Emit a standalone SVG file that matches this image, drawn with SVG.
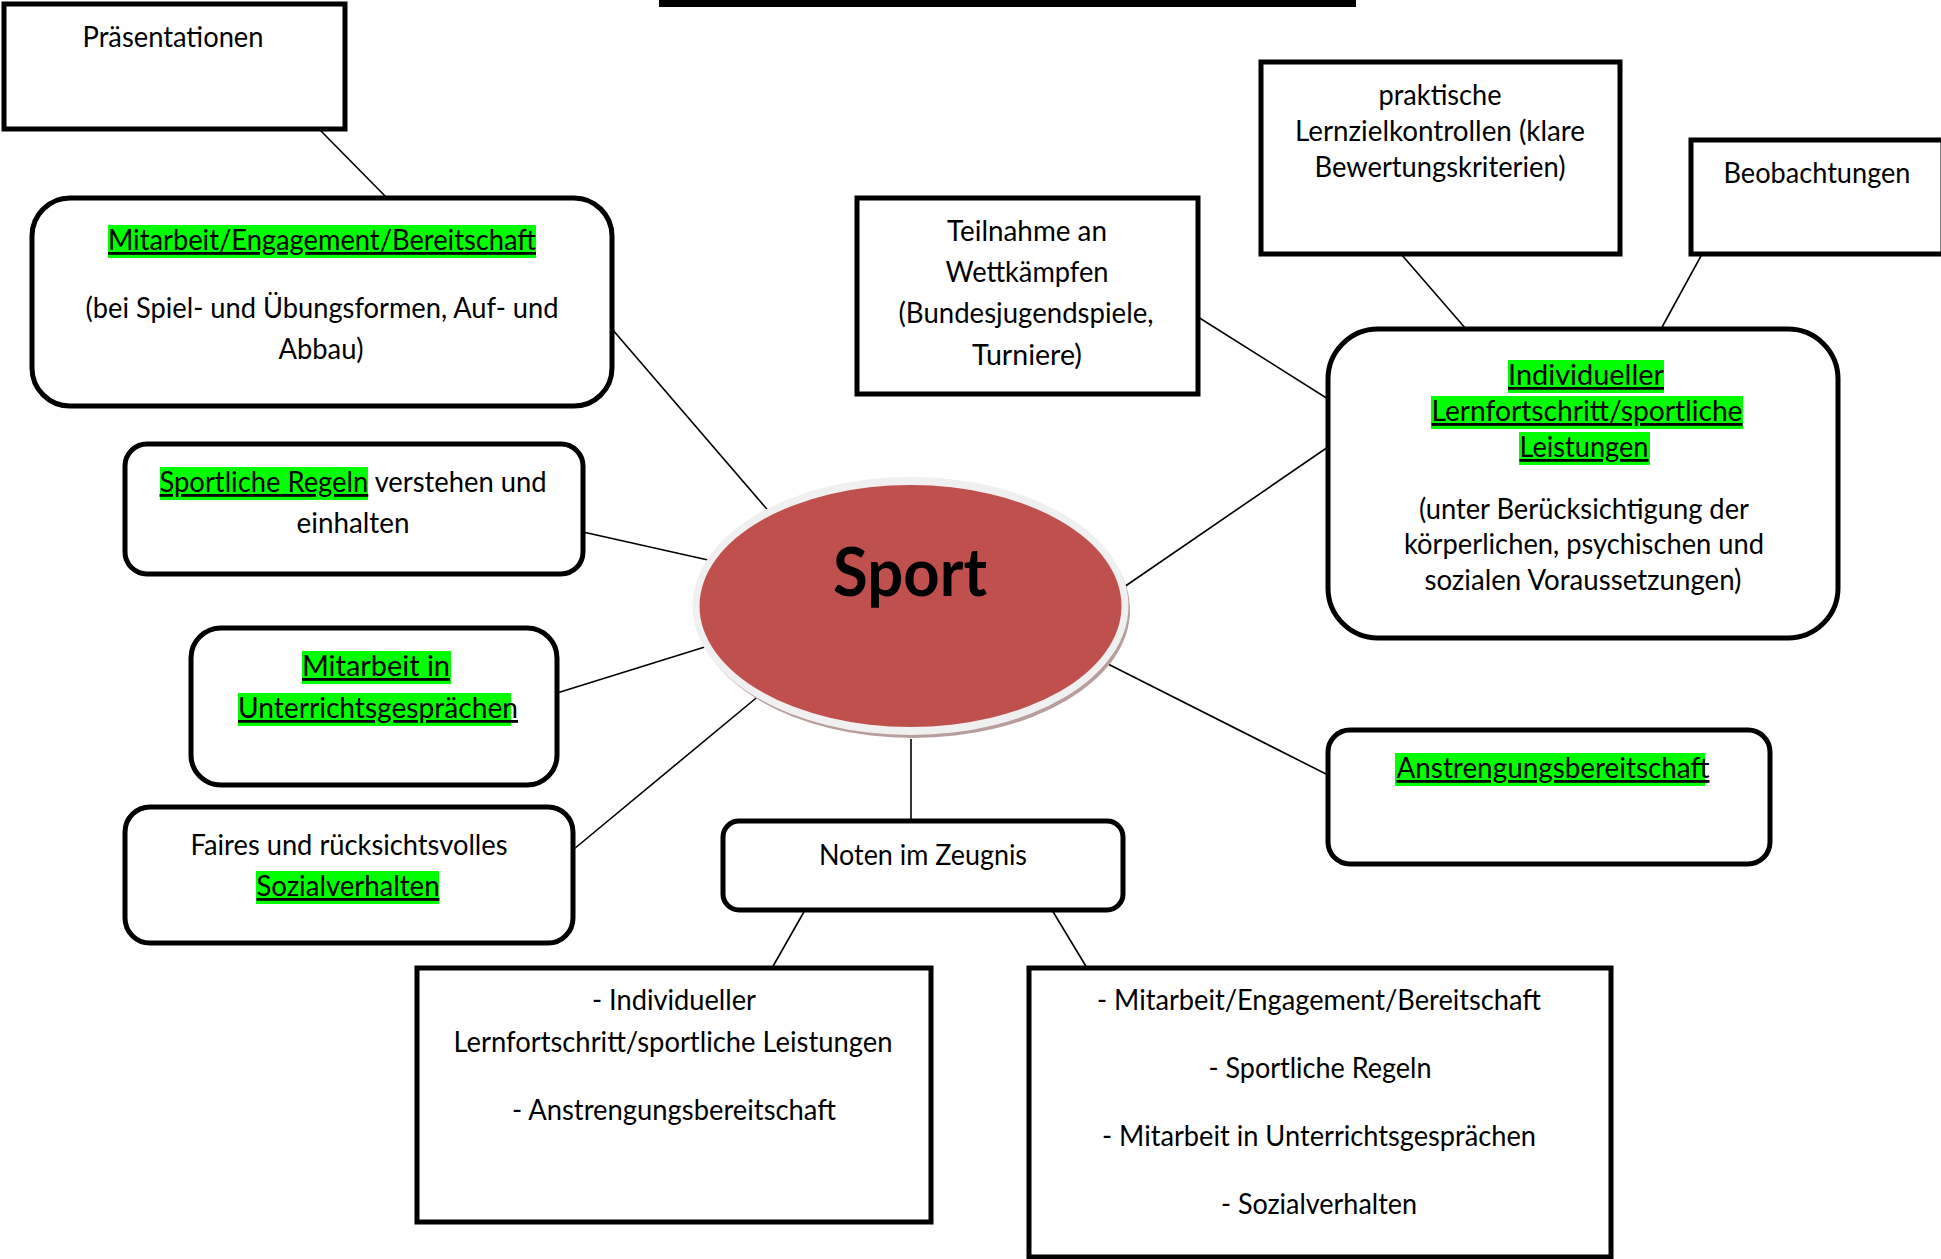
<svg xmlns="http://www.w3.org/2000/svg" width="1941" height="1259" viewBox="0 0 1941 1259">
<style>
  .t { font-family: Lato, "Open Sans", "Liberation Sans", sans-serif; font-size: 28px; fill: #000; text-anchor: middle; }
  .u { text-decoration: underline; }
  .box { fill: #fff; stroke: #000; stroke-width: 5; }
  .hl { fill: #00FF00; }
  .con { stroke: #000; stroke-width: 1.6; fill: none; }
</style>
<rect width="1941" height="1259" fill="#fff"/>
<rect id="title-rule" x="659" y="0" width="697" height="7" fill="#000"/>

<g id="connectors">
  <line class="con" x1="319" y1="129" x2="387" y2="198"/>
  <line class="con" x1="612" y1="329" x2="772" y2="515"/>
  <line class="con" x1="583" y1="532" x2="708" y2="560"/>
  <line class="con" x1="557" y1="693" x2="708" y2="646"/>
  <line class="con" x1="574" y1="849" x2="761" y2="694"/>
  <line class="con" x1="911" y1="739" x2="911" y2="821"/>
  <line class="con" x1="805" y1="910" x2="772" y2="968"/>
  <line class="con" x1="1052" y1="910" x2="1087" y2="968"/>
  <line class="con" x1="1198" y1="317" x2="1328" y2="399"/>
  <line class="con" x1="1401" y1="254" x2="1466" y2="329"/>
  <line class="con" x1="1702" y1="254" x2="1661" y2="329"/>
  <line class="con" x1="1124" y1="587" x2="1328" y2="447"/>
  <line class="con" x1="1104" y1="662" x2="1328" y2="775"/>
</g>

<g id="sport">
  <ellipse cx="913" cy="610" rx="217" ry="128" fill="#B99C9C"/>
  <ellipse cx="910.5" cy="606" rx="218" ry="129" fill="#F0F0F0"/>
  <ellipse cx="910.5" cy="606" rx="211" ry="121" fill="#C0504D"/>
  <text x="910" y="596" style="font-family: Lato, 'Open Sans', 'Liberation Sans', sans-serif; font-size:66px; font-weight:bold; text-anchor:middle" textLength="154" lengthAdjust="spacingAndGlyphs">Sport</text>
</g>

<g id="praesentationen">
  <rect class="box" x="4" y="4" width="341" height="125"/>
  <text class="t" x="173" y="47" textLength="181" lengthAdjust="spacingAndGlyphs">Präsentationen</text>
</g>

<g id="mitarbeit-engagement">
  <rect class="box" x="32" y="198" width="580" height="208" rx="38"/>
  <rect class="hl" x="108" y="225" width="428" height="33"/>
  <text class="t u" x="322" y="250" textLength="428" lengthAdjust="spacingAndGlyphs">Mitarbeit/Engagement/Bereitschaft</text>
  <text class="t" x="322" y="318" textLength="473" lengthAdjust="spacingAndGlyphs">(bei Spiel- und Übungsformen, Auf- und</text>
  <text class="t" x="321" y="359" textLength="85" lengthAdjust="spacingAndGlyphs">Abbau)</text>
</g>

<g id="sportliche-regeln">
  <rect class="box" x="125" y="444" width="458" height="130" rx="22"/>
  <rect class="hl" x="160" y="467" width="208" height="33"/>
  <text class="t" x="353" y="492" textLength="387" lengthAdjust="spacingAndGlyphs"><tspan class="u">Sportliche Regeln</tspan> verstehen und</text>
  <text class="t" x="353" y="533" textLength="113" lengthAdjust="spacingAndGlyphs">einhalten</text>
</g>

<g id="mitarbeit-unterricht">
  <rect class="box" x="191" y="628" width="366" height="157" rx="30"/>
  <rect class="hl" x="302" y="651" width="149" height="33"/>
  <rect class="hl" x="238" y="693" width="273" height="33"/>
  <text class="t u" x="376" y="676" textLength="148" lengthAdjust="spacingAndGlyphs">Mitarbeit in </text>
  <text class="t u" x="378" y="718" textLength="280" lengthAdjust="spacingAndGlyphs">Unterrichtsgesprächen </text>
</g>

<g id="faires">
  <rect class="box" x="125" y="807" width="448" height="136" rx="25"/>
  <rect class="hl" x="256" y="871" width="183" height="33"/>
  <text class="t" x="349" y="855" textLength="317" lengthAdjust="spacingAndGlyphs">Faires und rücksichtsvolles</text>
  <text class="t u" x="348" y="896" textLength="183" lengthAdjust="spacingAndGlyphs">Sozialverhalten</text>
</g>

<g id="noten">
  <rect class="box" x="723" y="821" width="400" height="89" rx="16"/>
  <text class="t" x="923" y="865" textLength="208" lengthAdjust="spacingAndGlyphs">Noten im Zeugnis</text>
</g>

<g id="noten-links">
  <rect class="box" x="417" y="968" width="514" height="254"/>
  <text class="t" x="674" y="1010" textLength="164" lengthAdjust="spacingAndGlyphs">- Individueller</text>
  <text class="t" x="673" y="1052" textLength="439" lengthAdjust="spacingAndGlyphs">Lernfortschritt/sportliche Leistungen</text>
  <text class="t" x="674" y="1120" textLength="324" lengthAdjust="spacingAndGlyphs">- Anstrengungsbereitschaft</text>
</g>

<g id="noten-rechts">
  <rect class="box" x="1029" y="968" width="582" height="289"/>
  <text class="t" x="1319" y="1010" textLength="444" lengthAdjust="spacingAndGlyphs">- Mitarbeit/Engagement/Bereitschaft</text>
  <text class="t" x="1320" y="1078" textLength="223" lengthAdjust="spacingAndGlyphs">- Sportliche Regeln</text>
  <text class="t" x="1319" y="1146" textLength="434" lengthAdjust="spacingAndGlyphs">- Mitarbeit in Unterrichtsgesprächen</text>
  <text class="t" x="1319" y="1214" textLength="196" lengthAdjust="spacingAndGlyphs">- Sozialverhalten</text>
</g>

<g id="teilnahme">
  <rect class="box" x="857" y="198" width="341" height="196"/>
  <text class="t" x="1027" y="241" textLength="160" lengthAdjust="spacingAndGlyphs">Teilnahme an</text>
  <text class="t" x="1027" y="282" textLength="163" lengthAdjust="spacingAndGlyphs">Wettkämpfen</text>
  <text class="t" x="1026" y="323" textLength="255" lengthAdjust="spacingAndGlyphs">(Bundesjugendspiele,</text>
  <text class="t" x="1027" y="365" textLength="110" lengthAdjust="spacingAndGlyphs">Turniere)</text>
</g>

<g id="praktische">
  <rect class="box" x="1261" y="62" width="359" height="192"/>
  <text class="t" x="1440" y="105" textLength="123" lengthAdjust="spacingAndGlyphs">praktische</text>
  <text class="t" x="1440" y="141" textLength="290" lengthAdjust="spacingAndGlyphs">Lernzielkontrollen (klare</text>
  <text class="t" x="1440" y="177" textLength="251" lengthAdjust="spacingAndGlyphs">Bewertungskriterien)</text>
</g>

<g id="beobachtungen">
  <rect class="box" x="1691" y="140" width="252" height="114"/>
  <text class="t" x="1817" y="183" textLength="187" lengthAdjust="spacingAndGlyphs">Beobachtungen</text>
</g>

<g id="individueller">
  <rect class="box" x="1328" y="329" width="510" height="309" rx="50"/>
  <rect class="hl" x="1508" y="360" width="156" height="33"/>
  <rect class="hl" x="1431" y="396" width="312" height="33"/>
  <rect class="hl" x="1519" y="432" width="131" height="33"/>
  <text class="t u" x="1586" y="385" textLength="156" lengthAdjust="spacingAndGlyphs">Individueller </text>
  <text class="t u" x="1587" y="421" textLength="311" lengthAdjust="spacingAndGlyphs">Lernfortschritt/sportliche </text>
  <text class="t u" x="1584" y="457" textLength="129" lengthAdjust="spacingAndGlyphs">Leistungen</text>
  <text class="t" x="1584" y="519" textLength="330" lengthAdjust="spacingAndGlyphs">(unter Berücksichtigung der</text>
  <text class="t" x="1584" y="554" textLength="360" lengthAdjust="spacingAndGlyphs">körperlichen, psychischen und</text>
  <text class="t" x="1583" y="590" textLength="317" lengthAdjust="spacingAndGlyphs">sozialen Voraussetzungen)</text>
</g>

<g id="anstrengung">
  <rect class="box" x="1328" y="730" width="442" height="134" rx="22"/>
  <rect class="hl" x="1395" y="753" width="310" height="33"/>
  <text class="t u" x="1553" y="778" textLength="313" lengthAdjust="spacingAndGlyphs">Anstrengungsbereitschaft </text>
</g>
</svg>
